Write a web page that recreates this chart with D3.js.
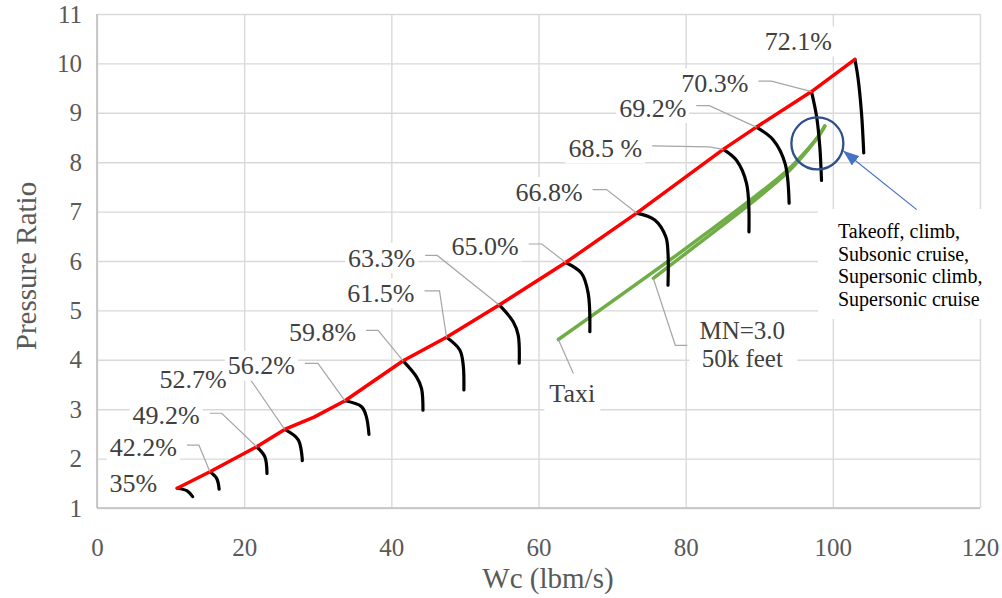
<!DOCTYPE html>
<html><head><meta charset="utf-8">
<script src="https://cdn.jsdelivr.net/npm/d3@7"></script>
<style>html,body{margin:0;padding:0;background:#fff;} svg{display:block;} svg text{font-family:"Liberation Serif","Times New Roman",serif !important;}</style>
</head><body><svg id="c" width="1002" height="598"></svg>
<script>
// ---------------- data ----------------
const xTicks = [0, 20, 40, 60, 80, 100, 120];
const yTicks = [1, 2, 3, 4, 5, 6, 7, 8, 9, 10, 11];

// surge line (red)
const surgeX = [10.9, 15.35, 21.7, 25.5, 29.5, 33.7, 41.6, 47.5, 54.66, 63.7, 73.33, 85.1, 89.6, 97.1, 103.0];
const surgeY = [1.40, 1.735, 2.24, 2.59, 2.84, 3.17, 3.98, 4.455, 5.11, 5.97, 6.97, 8.26, 8.71, 9.43, 10.08];

// corrected speed lines (black)
const speedLabels = ["35%", "42.2%", "49.2%", "52.7%", "56.2%", "59.8%", "61.5%", "63.3%", "65.0%", "66.8%", "68.5 %", "69.2%", "70.3%", "72.1%"];
const speedLines = [
  [[10.9, 1.40], [12.2, 1.35], [13.0, 1.23]],
  [[15.35, 1.735], [16.26, 1.60], [16.6, 1.38]],
  [[21.7, 2.24], [22.8, 2.04], [23.1, 1.70]],
  [[25.5, 2.59], [27.35, 2.38], [27.9, 1.96]],
  [[33.7, 3.17], [35.96, 3.05], [36.6, 2.85], [36.96, 2.49]],
  [[41.6, 3.98], [43.4, 3.66], [44.1, 3.42], [44.3, 2.98]],
  [[47.5, 4.455], [49.3, 4.20], [49.77, 3.89], [49.86, 3.39]],
  [[54.66, 5.11], [56.56, 4.77], [57.24, 4.50], [57.38, 3.93]],
  [[63.7, 5.97], [65.85, 5.75], [66.75, 5.35], [66.98, 4.57]],
  [[73.33, 6.97], [75.8, 6.83], [77.3, 6.49], [77.6, 6.16], [77.6, 5.51]],
  [[85.1, 8.26], [86.9, 8.04], [88.27, 7.57], [88.6, 6.59]],
  [[89.6, 8.71], [91.9, 8.45], [93.5, 7.98], [94.06, 7.17]],
  [[97.1, 9.43], [97.8, 8.92], [98.23, 8.31], [98.46, 7.63]],
  [[103.0, 10.08], [103.4, 9.73], [103.9, 8.99], [104.2, 8.19]]
];

// operating lines (green)
const taxiX = [62.7, 79.7, 88.5, 93.7, 96.8, 98.3, 98.9];
const taxiY = [4.41, 6.22, 7.20, 7.82, 8.30, 8.58, 8.73];
const mnX = [75.6, 80.6, 88.7, 93.9, 96.9, 98.3, 98.9];
const mnY = [5.65, 6.22, 7.15, 7.80, 8.30, 8.58, 8.73];

// annotation
const circleCenter = [97.9, 8.38];
const arrowFrom = [111.4, 7.04];
const arrowTo = [101.4, 8.23];
const noteLines = ["Takeoff, climb,", "Subsonic cruise,", "Supersonic climb,", "Supersonic cruise"];
const taxiLabel = "Taxi";
const mnLabel = ["MN=3.0", "50k feet"];

// ---------------- layout (pixels) ----------------
// label offsets relative to the top of each speed line: [text right dx, text centre dy, elbow length, hasLeader]
const labelLayout = [
  [-20, -5, 0, 0], [-33, -24, 12, 1], [-57, -31, 12, 1], [-58, -50, 12, 1],
  [-50, -35, 13, 1], [-47, -28, 12, 1], [-32, -44, 15, 1], [-84, -47, 12, 1],
  [-47, -16, 13, 1], [-54, -21, 14, 1], [-81, -1, 57, 1], [-70, -19, 13, 1],
  [-63, -8, 13, 1], [-23, -18, 0, 0]
];

const L = 97, R = 980, T = 14, B = 508;
const svg = d3.select("#c");
const x = d3.scaleLinear().domain([0, 120]).range([L, R]);
const y = d3.scaleLinear().domain([1, 11]).range([B, T]);

// grid + tick labels
const gx = svg.append("g").attr("transform", `translate(0,${B})`)
  .call(d3.axisBottom(x).tickValues(xTicks).tickSize(-(B - T)).tickPadding(30).tickFormat(d3.format("d")));
const gy = svg.append("g").attr("transform", `translate(${L},0)`)
  .call(d3.axisLeft(y).tickValues(yTicks).tickSize(-(R - L)).tickPadding(15).tickFormat(d3.format("d")));
[gx, gy].forEach(g => {
  g.attr("font-family", null).attr("font-size", null);
  g.select(".domain").remove();
  g.selectAll(".tick line").attr("stroke", "#d9d9d9").attr("stroke-width", 1.4);
  g.selectAll(".tick text").attr("fill", "#595959").style("font-size", "25px");
});
svg.append("line").attr("x1", L).attr("x2", L).attr("y1", T).attr("y2", B).attr("stroke", "#bfbfbf").attr("stroke-width", 1.6);
svg.append("line").attr("x1", L).attr("x2", R).attr("y1", B).attr("y2", B).attr("stroke", "#bfbfbf").attr("stroke-width", 1.6);

// axis titles
svg.append("text").attr("x", 548).attr("y", 588).attr("text-anchor", "middle")
  .style("font-size", "29px").attr("fill", "#595959").text("Wc (lbm/s)");
svg.append("text").attr("transform", "translate(36,266) rotate(-90)").attr("text-anchor", "middle")
  .style("font-size", "29px").attr("fill", "#595959").text("Pressure Ratio");

// white box behind the side note (covers grid)
svg.append("rect").attr("x", 818).attr("y", 209).attr("width", 175).attr("height", 110).attr("fill", "#fff");

// lines
const line = d3.line().x(d => x(d[0])).y(d => y(d[1]));
const smooth = d3.line().x(d => x(d[0])).y(d => y(d[1])).curve(d3.curveCatmullRom.alpha(0.5));

const taxi = taxiX.map((v, i) => [v, taxiY[i]]);
const mn = mnX.map((v, i) => [v, mnY[i]]);
svg.append("path").attr("d", smooth(taxi)).attr("fill", "none").attr("stroke", "#70ad47").attr("stroke-width", 3.5).attr("stroke-linecap", "round");
svg.append("path").attr("d", smooth(mn)).attr("fill", "none").attr("stroke", "#70ad47").attr("stroke-width", 3.5).attr("stroke-linecap", "round");

speedLines.forEach(pts => {
  svg.append("path").attr("d", smooth(pts)).attr("fill", "none").attr("stroke", "#000")
    .attr("stroke-width", 3.2).attr("stroke-linecap", "round");
});

const surge = surgeX.map((v, i) => [v, surgeY[i]]);
svg.append("path").attr("d", line(surge)).attr("fill", "none").attr("stroke", "#ff0000")
  .attr("stroke-width", 3.5).attr("stroke-linejoin", "round").attr("stroke-linecap", "round");

// speed labels with leaders
const FS = 26;
speedLabels.forEach((lab, i) => {
  const top = speedLines[i][0];
  const tx = x(top[0]), ty = y(top[1]);
  const [dx, dy, elbow, lead] = labelLayout[i];
  const rx = tx + dx, cy = ty + dy;
  if (lead) {
    svg.append("polyline")
      .attr("points", `${rx + 10},${cy - 2.5} ${rx + 10 + elbow},${cy - 2.5 + (elbow > 30 ? 1 : 0)} ${tx},${ty}`)
      .attr("fill", "none").attr("stroke", "#a6a6a6").attr("stroke-width", 1.2);
  }
  const t = svg.append("text").attr("x", rx).attr("y", cy + 8.6).attr("text-anchor", "end")
    .style("font-size", FS + "px").attr("fill", "#404040").text(lab);
  const bb = t.node().getBBox();
  svg.insert("rect", () => t.node()).attr("x", bb.x - 3).attr("y", cy - 15).attr("width", bb.width + 6)
    .attr("height", 30).attr("fill", "#fff");
});

// Taxi label
{
  const sx = x(taxi[0][0]), sy = y(taxi[0][1]);
  svg.append("line").attr("x1", sx).attr("y1", sy).attr("x2", sx + 15).attr("y2", sy + 34)
    .attr("stroke", "#a6a6a6").attr("stroke-width", 1.2);
  svg.append("rect").attr("x", sx - 14).attr("y", sy + 36).attr("width", 56).attr("height", 36).attr("fill", "#fff");
  svg.append("text").attr("x", sx - 9).attr("y", sy + 62).style("font-size", FS + "px").attr("fill", "#404040").text(taxiLabel);
}
// MN label (two lines)
{
  const sx = x(mn[0][0]), sy = y(mn[0][1]);
  svg.append("polyline").attr("points", `${sx},${sy} ${sx + 22},${sy + 67} ${sx + 34},${sy + 67}`)
    .attr("fill", "none").attr("stroke", "#a6a6a6").attr("stroke-width", 1.2);
  svg.append("rect").attr("x", sx + 36).attr("y", sy + 40).attr("width", 108).attr("height", 58).attr("fill", "#fff");
  svg.append("text").attr("x", sx + 89).attr("y", sy + 61).attr("text-anchor", "middle")
    .style("font-size", "25px").attr("fill", "#404040").text(mnLabel[0]);
  svg.append("text").attr("x", sx + 89).attr("y", sy + 89).attr("text-anchor", "middle")
    .style("font-size", "25px").attr("fill", "#404040").text(mnLabel[1]);
}

// circle + arrow
svg.append("circle").attr("cx", x(circleCenter[0])).attr("cy", y(circleCenter[1])).attr("r", 26)
  .attr("fill", "none").attr("stroke", "#2f4f8a").attr("stroke-width", 2.3);
svg.append("defs").append("marker").attr("id", "ah").attr("markerUnits", "userSpaceOnUse")
  .attr("viewBox", "0 0 16 12").attr("refX", 16).attr("refY", 6).attr("markerWidth", 16).attr("markerHeight", 12)
  .attr("orient", "auto").append("path").attr("d", "M0,0 L16,6 L0,12 Z").attr("fill", "#4472c4");
svg.append("line").attr("x1", x(arrowFrom[0])).attr("y1", y(arrowFrom[1])).attr("x2", x(arrowTo[0])).attr("y2", y(arrowTo[1]))
  .attr("stroke", "#4472c4").attr("stroke-width", 1.2).attr("marker-end", "url(#ah)");

// note text
noteLines.forEach((s, i) => {
  svg.append("text").attr("x", 838).attr("y", 238 + i * 22.7).style("font-size", "20px").attr("fill", "#000").text(s);
});
</script></body></html>
